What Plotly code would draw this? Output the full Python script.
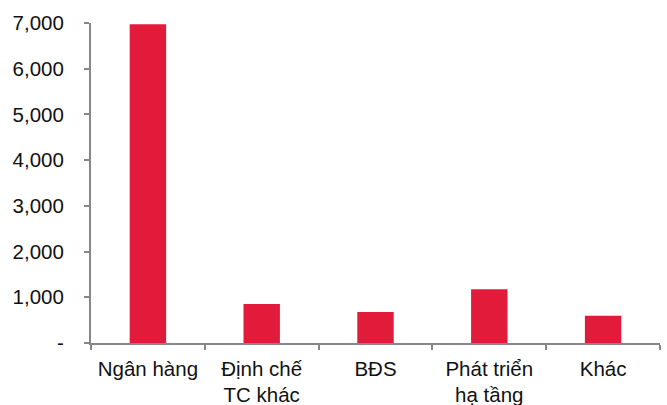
import plotly.graph_objects as go

categories = ["Ngân hàng", "Định chế<br>TC khác", "BĐS", "Phát triển<br>hạ tầng", "Khác"]
values = [6970, 853, 678, 1175, 597]
y_tickvals = [0, 1000, 2000, 3000, 4000, 5000, 6000, 7000]
y_ticktext = ["-", "1,000", "2,000", "3,000", "4,000", "5,000", "6,000", "7,000"]

axis_color = "#878787"
font = dict(family="Liberation Sans, Arial, sans-serif", size=20.5, color="#111111")

fig = go.Figure(go.Bar(
    x=categories, y=values,
    marker=dict(color="#E31B3B", line=dict(width=0)),
    width=0.32,
))

fig.update_layout(
    width=667, height=405,
    margin=dict(l=91, r=7, t=23, b=62),
    paper_bgcolor="white", plot_bgcolor="white",
    font=font, showlegend=False,
)
fig.update_xaxes(
    showline=True, linecolor=axis_color, linewidth=2,
    ticks="outside", tickson="boundaries", ticklen=5, tickcolor=axis_color, tickwidth=2,
    showgrid=False, tickfont=font, automargin=False, ticklabelstandoff=6,
)
fig.update_yaxes(
    range=[0, 7000], tickvals=y_tickvals, ticktext=y_ticktext,
    showline=True, linecolor=axis_color, linewidth=2,
    ticks="outside", ticklen=5, tickcolor=axis_color, tickwidth=2,
    showgrid=False, zeroline=False, tickfont=font, ticklabelstandoff=16,
    automargin=False,
)

fig.write_html("out.html", config={"displayModeBar": False},
               post_script="document.body.style.margin='0';")
